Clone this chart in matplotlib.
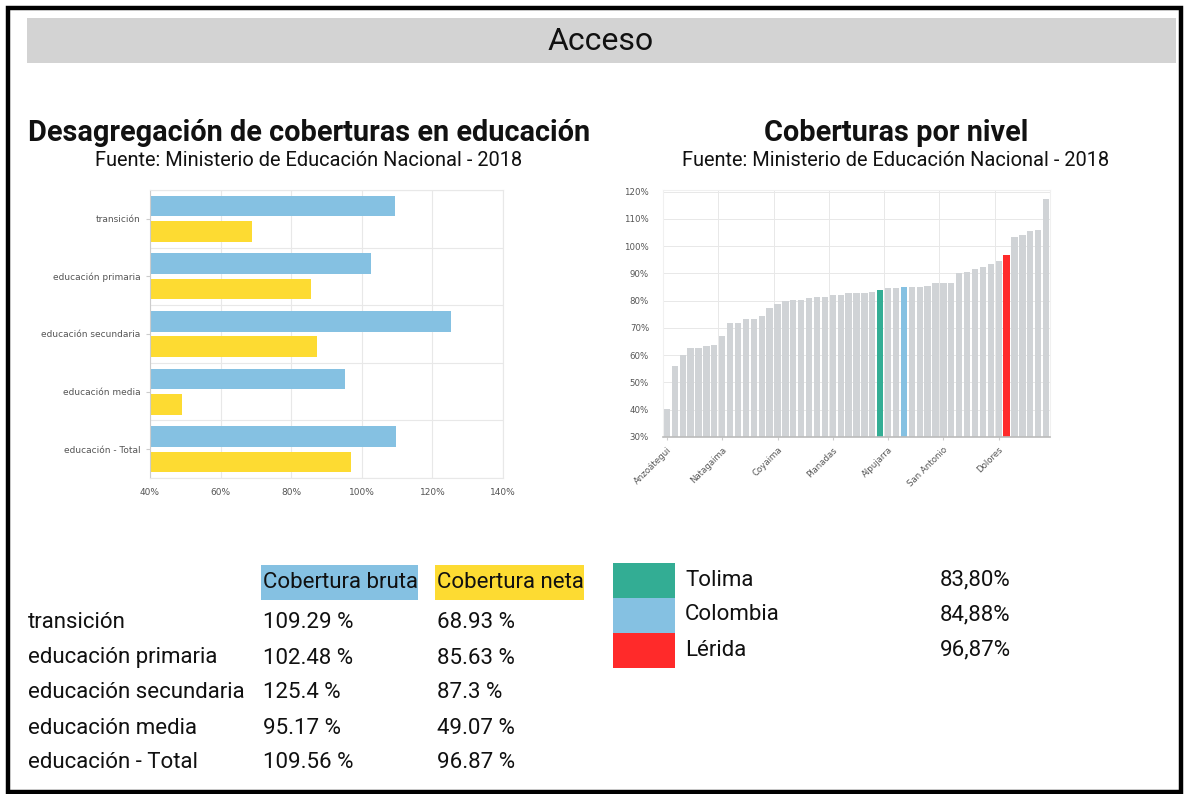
import matplotlib
matplotlib.use("Agg")
import matplotlib.pyplot as plt
from matplotlib.patches import Rectangle
import numpy as np

W, H = 1186, 794

# datos - cobertura por nivel educativo (Tolima)
niveles = ["transición", "educación primaria", "educación secundaria",
           "educación media", "educación - Total"]
bruta = [109.29, 102.48, 125.4, 95.17, 109.56]
neta = [68.93, 85.63, 87.3, 49.07, 96.87]
bruta_txt = ["109.29 %", "102.48 %", "125.4 %", "95.17 %", "109.56 %"]
neta_txt = ["68.93 %", "85.63 %", "87.3 %", "49.07 %", "96.87 %"]

# cobertura neta por municipio (ordenado), incluye Tolima y Colombia
cobertura = [40.3, 56.1, 60.0, 62.6, 62.6, 63.2, 63.8, 66.9, 71.9, 71.9,
             73.3, 73.3, 74.3, 77.4, 78.9, 79.9, 80.3, 80.3, 81.0, 81.2,
             81.2, 82.2, 82.2, 82.9, 82.9, 82.9, 83.1, 83.80, 84.6, 84.6,
             84.88, 85.1, 85.1, 85.4, 86.4, 86.4, 86.4, 90.2, 90.7, 91.7,
             92.3, 93.4, 94.6, 96.87, 103.4, 104.2, 105.6, 106.0, 117.4]
idx_tolima = 27
idx_colombia = 30
idx_lerida = 43
etiquetas_x = ["Anzoátegui", "Natagaima", "Coyaima", "Planadas",
               "Alpujarra", "San Antonio", "Dolores"]
pos_etiquetas = [0, 7, 14, 21, 28, 35, 42]

leyenda_nombres = ["Tolima", "Colombia", "Lérida"]
leyenda_valores = ["83,80%", "84,88%", "96,87%"]

azul = "#85c1e2"
amarillo = "#fddb32"
gris_barra = "#d0d3d6"
verde = "#33ad94"
rojo = "#ff2a2a"
grid_c = "#e8e8e8"
tick_c = "#555555"
fs_tabla = 16


def fx(px):
    return px / W


def fy(py):
    return 1 - py / H


fig = plt.figure(figsize=(W / 100, H / 100), dpi=100)
fig.patch.set_facecolor("white")

# marco y cabecera
fig.patches.append(Rectangle((fx(8), fy(792)), fx(1181) - fx(8), fy(8) - fy(792),
                             transform=fig.transFigure, fill=False,
                             edgecolor="black", linewidth=3.2, zorder=0))
fig.patches.append(Rectangle((fx(27), fy(63)), fx(1176) - fx(27), fy(18) - fy(63),
                             transform=fig.transFigure, facecolor="#d3d3d3",
                             edgecolor="none", zorder=0))
fig.text(fx(601), fy(41), "Acceso", ha="center", va="center",
         fontsize=23, family="Roboto", color="#111111")

# titulos
fig.text(fx(309), fy(133), "Desagregación de coberturas en educación",
         ha="center", va="center", fontsize=20.8, family="Roboto",
         fontweight="bold", color="#111111")
fig.text(fx(309), fy(160), "Fuente: Ministerio de Educación Nacional - 2018",
         ha="center", va="center", fontsize=14.4, family="Roboto", color="#111111")
fig.text(fx(896), fy(133), "Coberturas por nivel",
         ha="center", va="center", fontsize=20.8, family="Roboto",
         fontweight="bold", color="#111111")
fig.text(fx(896), fy(160), "Fuente: Ministerio de Educación Nacional - 2018",
         ha="center", va="center", fontsize=14.4, family="Roboto", color="#111111")

# grafico izquierdo: barras horizontales
ax1 = fig.add_axes([fx(150), fy(478), fx(503) - fx(150), fy(190) - fy(478)])
y = np.arange(len(niveles))
ax1.barh(y - 0.22, bruta, height=0.36, color=azul, zorder=2)
ax1.barh(y + 0.22, neta, height=0.36, color=amarillo, zorder=2)
ax1.set_xlim(40, 140)
ax1.set_ylim(len(niveles) - 0.5, -0.5)
ax1.set_xticks([40, 60, 80, 100, 120, 140])
ax1.set_xticklabels(["40%", "60%", "80%", "100%", "120%", "140%"])
ax1.set_yticks(y)
ax1.set_yticklabels(niveles)
ax1.set_yticks(np.arange(-0.5, len(niveles), 1), minor=True)
ax1.grid(True, axis="x", color=grid_c, linewidth=0.8, zorder=0)
ax1.grid(True, axis="y", which="minor", color=grid_c, linewidth=0.8, zorder=0)
ax1.tick_params(axis="both", labelsize=6.5, colors=tick_c, length=3)
ax1.tick_params(axis="y", which="minor", length=0)
ax1.tick_params(axis="x", length=0, pad=7)
ax1.tick_params(axis="y", color="#cccccc", pad=4)
for s in ["top", "right", "bottom"]:
    ax1.spines[s].set_color(grid_c)
ax1.spines["left"].set_color("#cccccc")

# grafico derecho: cobertura por municipio
ax2 = fig.add_axes([fx(663), fy(437), fx(1050) - fx(663), fy(190) - fy(437)])
colores = [gris_barra] * len(cobertura)
colores[idx_tolima] = verde
colores[idx_colombia] = azul
colores[idx_lerida] = rojo
x = np.arange(len(cobertura))
ax2.bar(x, cobertura, width=0.8, color=colores, zorder=2)
ax2.set_xlim(-0.5, len(cobertura) - 0.5)
ax2.set_ylim(30, 120.6)
ax2.set_yticks(np.arange(30, 121, 10))
ax2.set_yticklabels([f"{v}%" for v in range(30, 121, 10)])
ax2.set_xticks(pos_etiquetas)
ax2.set_xticklabels(etiquetas_x, rotation=45, ha="right", rotation_mode="anchor")
ax2.set_xticks(np.arange(6.5, len(cobertura), 7), minor=True)
ax2.grid(True, axis="y", color=grid_c, linewidth=0.7, zorder=0)
ax2.grid(True, axis="x", which="minor", color=grid_c, linewidth=0.7, zorder=0)
ax2.tick_params(axis="both", labelsize=6.2, colors=tick_c)
ax2.tick_params(axis="y", length=0, pad=10)
ax2.tick_params(axis="x", length=2, color="#cccccc", pad=4)
ax2.tick_params(axis="x", which="minor", length=0)
for s in ["top", "right", "left"]:
    ax2.spines[s].set_color("#f0f0f0")
ax2.spines["bottom"].set_color("#bbbbbb")
ax2.spines["bottom"].set_linewidth(1.2)

# tabla inferior izquierda
fig.patches.append(Rectangle((fx(261), fy(600)), fx(418) - fx(261), fy(565) - fy(600),
                             transform=fig.transFigure, facecolor=azul,
                             edgecolor="none"))
fig.patches.append(Rectangle((fx(435), fy(600)), fx(584) - fx(435), fy(565) - fy(600),
                             transform=fig.transFigure, facecolor=amarillo,
                             edgecolor="none"))
fig.text(fx(263), fy(582), "Cobertura bruta", ha="left", va="center",
         fontsize=fs_tabla, family="Roboto", color="#111111")
fig.text(fx(437), fy(582), "Cobertura neta", ha="left", va="center",
         fontsize=fs_tabla, family="Roboto", color="#111111")
for i in range(len(niveles)):
    yy = fy(623 + 35 * i)
    fig.text(fx(28), yy, niveles[i], ha="left", va="center",
             fontsize=fs_tabla, family="Roboto", color="#111111")
    fig.text(fx(263), yy, bruta_txt[i], ha="left", va="center",
             fontsize=fs_tabla, family="Roboto", color="#111111")
    fig.text(fx(437), yy, neta_txt[i], ha="left", va="center",
             fontsize=fs_tabla, family="Roboto", color="#111111")

# leyenda derecha
for i, c in enumerate([verde, azul, rojo]):
    top = 563 + 35 * i
    fig.patches.append(Rectangle((fx(613), fy(top + 35)), fx(675) - fx(613),
                                 fy(top) - fy(top + 35),
                                 transform=fig.transFigure, facecolor=c,
                                 edgecolor="none"))
    fig.text(fx(685), fy(top + 17), leyenda_nombres[i], ha="left", va="center",
             fontsize=fs_tabla, family="Roboto", color="#111111")
    fig.text(fx(940), fy(top + 17), leyenda_valores[i], ha="left", va="center",
             fontsize=fs_tabla, family="Roboto", color="#111111")

fig.savefig("out.png", dpi=100)
